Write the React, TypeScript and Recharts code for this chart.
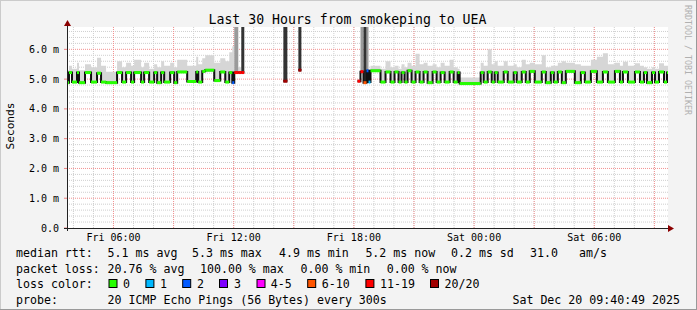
import React from 'react'
import { ComposedChart, Area, Line, XAxis, YAxis, ReferenceLine, CartesianGrid } from 'recharts'

// hours since Fri 00:00 (graph ends Sat 09:40:49, 30 hours back)
const startTime = 3.68
const endTime = 33.68

const xTicks = [6, 12, 18, 24, 30]
const xTickLabels = ['Fri 06:00', 'Fri 12:00', 'Fri 18:00', 'Sat 00:00', 'Sat 06:00']
const yTicks = [0, 1, 2, 3, 4, 5, 6]
const yTickLabels = ['0.0', '1.0 m', '2.0 m', '3.0 m', '4.0 m', '5.0 m', '6.0 m']
const hourGrid = [4, 5, 6, 7, 8, 9, 10, 11, 12, 13, 14, 15, 16, 17, 18, 19, 20, 21, 22, 23, 24, 25, 26, 27, 28, 29, 30, 31, 32, 33]
const threeHourGrid = [6, 9, 12, 15, 18, 21, 24, 27, 30, 33]
const minorYGrid = [0.2, 0.4, 0.6, 0.8, 1.2, 1.4, 1.6, 1.8, 2.2, 2.4, 2.6, 2.8, 3.2, 3.4, 3.6, 3.8, 4.2, 4.4, 4.6, 4.8, 5.2, 5.4, 5.6, 5.8, 6.2, 6.4, 6.6]
const majorYGrid = [1, 2, 3, 4, 5, 6]

const lossColors = ['#26ff00', '#00b8ff', '#0059ff', '#7e00ff', '#ff00ff', '#ff5500', '#ff0000', '#a10000']
const lossLabels = ['0', '1', '2', '3', '4-5', '6-10', '11-19', '20/20']

// median rtt runs (start time, ms), smoke top (ms), loss bucket
const runT = [
  3.68, 3.78, 3.93, 4.18, 4.28, 4.58, 4.88, 5.18, 5.38, 5.63, 6.18, 6.43, 6.63, 6.88, 7.03, 7.38, 7.53, 7.78,
  8.03, 8.18, 8.38, 8.53, 8.83, 9.03, 9.18, 9.68, 10.13, 10.23, 10.43, 10.58, 11.03, 11.33, 11.58, 11.78, 11.93,
  12.03, 12.23, 12.38, 12.53, 14.48, 14.68, 15.23, 15.38,
  18.18, 18.33, 18.48, 18.63, 18.73, 18.83, 19.33, 19.58, 19.83, 20.03, 20.23, 20.38, 20.53, 20.68, 20.88,
  21.08, 21.28, 21.48, 21.68, 21.93, 22.13, 22.33, 22.53, 22.78, 22.98, 23.18, 23.28, 24.33, 24.48, 24.68,
  24.88, 25.03, 25.18, 25.48, 25.68, 25.98, 26.13, 26.38, 26.58, 26.78, 27.03, 27.38, 27.58, 27.83, 27.98,
  28.18, 28.38, 28.58, 29.03, 29.33, 29.53, 29.83, 30.13, 30.43, 30.68, 31.03, 31.28, 31.43, 31.68, 32.03,
  32.28, 32.48, 32.63, 32.88, 33.03, 33.23, 33.48, 33.63,
]
const runMed: (number | null)[] = [
  4.88, 5.22, 4.9, 5.22, 4.88, 5.22, 4.9, 5.2, 4.9, 4.88, 5.22, 4.9, 5.22, 4.9, 5.22, 4.9, 5.22, 4.9,
  5.22, 4.88, 5.22, 4.9, 5.22, 4.88, 5.24, 4.92, 5.24, 4.9, 5.26, 5.3, 4.95, 5.24, 4.9, 5.22, 4.88,
  5.22, 5.22, 5.22, null, 4.93, null, 5.3, null,
  4.93, 5.25, 4.88, 5.28, 4.9, 5.28, 4.9, 5.24, 4.9, 5.24, 4.9, 5.22, 4.9, 5.28, 4.9,
  5.24, 4.9, 5.24, 4.88, 5.24, 4.9, 5.22, 4.9, 5.24, 4.9, 5.22, 4.85, 5.22, 4.9, 5.24,
  4.9, 5.22, 4.9, 5.24, 4.9, 5.22, 4.9, 5.24, 4.9, 5.26, 4.9, 5.24, 4.88, 5.22, 4.9,
  5.24, 4.88, 5.26, 4.88, 5.22, 4.9, 5.26, 4.9, 5.24, 4.9, 5.26, 4.9, 5.24, 4.9, 5.24,
  4.9, 5.22, 4.88, 5.22, 4.9, 5.24, 4.9, 5.22,
]
const runTop = [
  5.3, 5.45, 5.35, 5.55, 5.3, 5.5, 5.4, 5.72, 5.45, 5.25, 5.6, 5.4, 5.55, 5.45, 5.65, 5.4, 5.55, 5.35,
  5.5, 5.4, 5.6, 5.45, 5.55, 5.4, 5.65, 5.45, 5.75, 5.5, 5.7, 5.8, 5.55, 5.7, 5.6, 5.9, 6.1,
  9, 5.4, 9, 0, 9, 0, 9, 0,
  5.0, 9, 9, 9, 5.35, 5.45, 5.35, 5.6, 5.4, 5.45, 5.35, 5.5, 5.4, 5.55, 5.45,
  5.85, 5.5, 5.55, 5.45, 5.5, 5.4, 5.55, 5.45, 5.65, 5.4, 5.35, 5.05, 5.55, 5.45, 6.0,
  5.5, 5.6, 5.45, 5.6, 5.45, 5.5, 5.4, 5.65, 5.5, 5.55, 5.5, 5.8, 5.4, 5.45, 5.45,
  5.55, 5.6, 5.55, 5.5, 5.45, 5.45, 5.65, 5.75, 5.87, 5.5, 5.55, 5.45, 5.58, 5.45, 5.53,
  5.45, 5.4, 5.35, 5.4, 5.35, 5.53, 5.45, 5.45,
]
const runLoss = [
  0, 0, 0, 0, 0, 0, 0, 0, 0, 0, 0, 0, 0, 0, 0, 0, 0, 0,
  0, 0, 0, 0, 0, 0, 0, 0, 0, 0, 0, 0, 0, 0, 0, 0, 2,
  6, 6, 6, 0, 7, 0, 7, 0,
  6, 6, 5, 2, 1, 0, 0, 0, 0, 0, 0, 0, 0, 0, 0,
]
// runs whose smoke is a sparse burst (few pings answered)
const lightBursts = [12.03, 18.33, 18.63]
const darkBursts = [12.38, 14.48, 15.23, 18.48]

const FONT = '"DejaVu Sans Mono", monospace'

type Row = { t: number; med: number | null; smoke: number[] | null; burstL: number[] | null; burstD: number[] | null }

function buildRows(): Row[] {
  const rows: Row[] = []
  runT.forEach((t, i) => {
    const med = runMed[i]
    const end = i + 1 < runT.length ? runT[i + 1] : endTime
    if (med === null) {
      rows.push({ t, med: null, smoke: null, burstL: null, burstD: null })
      return
    }
    const range = [med, runTop[i]]
    const r = {
      med,
      smoke: !lightBursts.includes(t) && !darkBursts.includes(t) ? range : null,
      burstL: lightBursts.includes(t) ? range : null,
      burstD: darkBursts.includes(t) ? range : null,
    }
    rows.push({ t, ...r }, { t: end, ...r })
  })
  return rows
}

const legendRows = [
  { label: 'median rtt:', items: [[107.6, '5.1 ms avg'], [192, '5.3 ms max'], [279, '4.9 ms min'], [365.4, '5.2 ms now'], [451, '0.2 ms sd'], [530, '31.0'], [579, 'am/s']] },
  { label: 'packet loss:', items: [[107.6, '20.76 % avg'], [200, '100.00 % max'], [300.5, '0.00 % min'], [386.7, '0.00 % now']] },
]
const boxX = [108.5, 145.4, 182.2, 219, 256.5, 307.2, 365.4, 430]
const boxTextX = [123, 160, 197, 234, 270.7, 321.8, 380, 444.5]

export default function App() {
  const rows = buildRows()
  return (
    <div style={{ position: 'fixed', left: 0, top: 0, width: 697, height: 310, background: '#f3f3f3' }}>
      <ComposedChart width={697} height={310} data={rows} margin={{ top: 27, right: 29, bottom: 52, left: 0 }}>
        <CartesianGrid
          fill='#ffffff'
          stroke='#cfcfcf'
          strokeDasharray='1 1'
          horizontalValues={minorYGrid}
          verticalValues={hourGrid}
        />
        <CartesianGrid
          stroke='#f39090'
          strokeDasharray='1 1'
          horizontalValues={majorYGrid}
          verticalValues={threeHourGrid}
        />
        <XAxis
          type='number'
          dataKey='t'
          domain={[startTime, endTime]}
          allowDataOverflow
          ticks={xTicks}
          interval={0}
          tickFormatter={(v: number) => xTickLabels[xTicks.indexOf(v)]}
          axisLine={false}
          tickLine={false}
          tickSize={0}
          tickMargin={6}
          height={30}
          tick={{ fontSize: 10, fill: '#000', fontFamily: FONT }}
        />
        <YAxis
          type='number'
          domain={[0, 6.75]}
          allowDataOverflow
          ticks={yTicks}
          interval={0}
          tickFormatter={(v: number) => yTickLabels[yTicks.indexOf(v)]}
          axisLine={false}
          tickLine={{ stroke: '#f08080' }}
          tickSize={3}
          tickMargin={5}
          width={67}
          tick={{ fontSize: 10, fill: '#000', fontFamily: FONT }}
        />
        <Area type='linear' dataKey='smoke' stroke='none' fill='#d6d6d6' fillOpacity={1} isAnimationActive={false} connectNulls={false} />
        <Area type='linear' dataKey='burstL' stroke='none' fill='#9a9a9a' fillOpacity={1} isAnimationActive={false} connectNulls={false} />
        <Area type='linear' dataKey='burstD' stroke='none' fill='#333333' fillOpacity={1} isAnimationActive={false} connectNulls={false} />
        <Line type='linear' dataKey='med' stroke='#111111' strokeWidth={2} dot={false} isAnimationActive={false} connectNulls={false} />
        {runT.map((t, i) => {
          const med = runMed[i]
          if (med === null) return null
          const end = i + 1 < runT.length ? runT[i + 1] : endTime
          return (
            <ReferenceLine
              key={`m${i}`}
              segment={[{ x: t, y: med }, { x: end, y: med }]}
              stroke={lossColors[runLoss[i] ?? 0]}
              strokeWidth={3}
            />
          )
        })}
      </ComposedChart>
      <svg style={{ position: 'absolute', left: 0, top: 0 }} width={697} height={310} fontFamily={FONT}>
        <line x1={0} y1={0.5} x2={697} y2={0.5} stroke='#cbcbcb' />
        <line x1={0.5} y1={0} x2={0.5} y2={310} stroke='#cbcbcb' />
        <line x1={0} y1={309.5} x2={697} y2={309.5} stroke='#999999' />
        <line x1={696.5} y1={0} x2={696.5} y2={310} stroke='#999999' />
        {/* axes with arrows */}
        <line x1={67.5} y1={231} x2={67.5} y2={24} stroke='#222' />
        <polygon points='64,26 71,26 67.5,20' fill='#8b0000' />
        <line x1={64} y1={228.5} x2={670} y2={228.5} stroke='#222' />
        <polygon points='668,225 668,232 674,228.5' fill='#8b0000' />
        <text x={347.5} y={24} textAnchor='middle' fontSize={13.2} fill='#000'>
          Last 30 Hours from smokeping to UEA
        </text>
        <text transform='translate(14,126) rotate(-90)' textAnchor='middle' fontSize={11.2} fill='#000'>
          Seconds
        </text>
        <text transform='translate(685,5) rotate(90)' fontSize={8.3} fill='#b0b0b0'>
          RRDTOOL / TOBI OETIKER
        </text>
        {legendRows.map((row, r) => (
          <g key={row.label} fontSize={11.6} fill='#000'>
            <text x={16} y={257 + r * 15.5}>{row.label}</text>
            {row.items.map(([x, s]) => (
              <text key={s as string} x={x as number} y={257 + r * 15.5}>{s as string}</text>
            ))}
          </g>
        ))}
        <g fontSize={11.6} fill='#000'>
          <text x={16} y={288}>loss color:</text>
          {lossLabels.map((l, i) => (
            <g key={l}>
              <rect x={boxX[i] + 0.5} y={279.5} width={8} height={8} fill={lossColors[i]} stroke='#000' />
              <text x={boxTextX[i]} y={288}>{l}</text>
            </g>
          ))}
          <text x={16} y={303.5}>probe:</text>
          <text x={107.6} y={303.5}>20 ICMP Echo Pings (56 Bytes) every 300s</text>
          <text x={680} y={303.5} textAnchor='end'>Sat Dec 20 09:40:49 2025</text>
        </g>
      </svg>
    </div>
  )
}
